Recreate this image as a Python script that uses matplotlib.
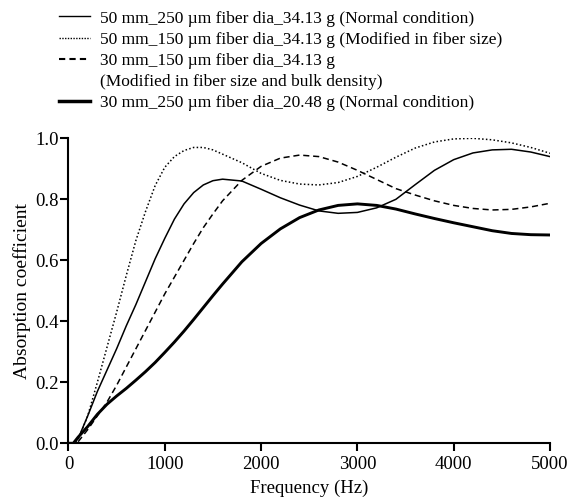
import matplotlib
matplotlib.use("Agg")
import matplotlib.pyplot as plt
from matplotlib.lines import Line2D

plt.rcParams['font.family'] = ['Liberation Serif', 'DejaVu Serif']

freq = [0, 50, 100, 200, 300, 400, 500, 600, 700, 800, 900, 1000, 1100, 1200, 1300,
        1400, 1500, 1600, 1800, 2000, 2200, 2400, 2600, 2800, 3000, 3200, 3400, 3600,
        3800, 4000, 4200, 4400, 4600, 4800, 5000]

# 50 mm_250 um (normal)
s50_250 = [0, 0, 0.015, 0.09, 0.17, 0.24, 0.31, 0.385, 0.455, 0.53, 0.605, 0.672,
           0.735, 0.785, 0.822, 0.847, 0.861, 0.866,
           0.86, 0.833, 0.805, 0.781, 0.762, 0.754, 0.757, 0.772, 0.8, 0.848, 0.895,
           0.93, 0.952, 0.962, 0.964, 0.955, 0.94]
# 50 mm_150 um (modified fiber size)
s50_150 = [0, 0, 0.012, 0.09, 0.2, 0.315, 0.43, 0.55, 0.665, 0.76, 0.845, 0.905,
           0.94, 0.96, 0.97, 0.97, 0.962, 0.948,
           0.92, 0.885, 0.862, 0.85, 0.847, 0.855, 0.875, 0.905, 0.938, 0.968, 0.988,
           0.998, 1.0, 0.995, 0.985, 0.97, 0.951]
# 30 mm_150 um (modified fiber size and bulk density)
s30_150 = [0, 0, 0.005, 0.045, 0.09, 0.135, 0.19, 0.25, 0.31, 0.37, 0.43, 0.49,
           0.545, 0.6, 0.655, 0.707, 0.752, 0.795,
           0.862, 0.908, 0.935, 0.945, 0.94, 0.922, 0.895, 0.865, 0.835, 0.814, 0.795,
           0.78, 0.77, 0.765, 0.767, 0.775, 0.787]
# 30 mm_250 um (normal)
s30_250 = [0, 0, 0.02, 0.055, 0.095, 0.128, 0.155, 0.18, 0.207, 0.235, 0.265, 0.298,
           0.332, 0.368, 0.406, 0.445, 0.484, 0.522,
           0.595, 0.655, 0.703, 0.74, 0.765, 0.78, 0.785, 0.78, 0.768, 0.752, 0.737,
           0.723, 0.71, 0.697, 0.688, 0.684, 0.683]

labels = ['50 mm_250 \u00b5m fiber dia_34.13 g (Normal condition)',
          '50 mm_150 \u00b5m fiber dia_34.13 g (Modified in fiber size)',
          '30 mm_150 \u00b5m fiber dia_34.13 g',
          '(Modified in fiber size and bulk density)',
          '30 mm_250 \u00b5m fiber dia_20.48 g (Normal condition)']

fig = plt.figure(figsize=(5.73, 5.0), dpi=100)
ax = fig.add_axes([0.1195, 0.1134, 0.8404, 0.61])

ax.plot(freq, s50_250, color='black', lw=1.1, ls='-')
ax.plot(freq, s50_150, color='black', lw=1.1, ls=(0, (1, 1.5)))
ax.plot(freq, s30_150, color='black', lw=1.1, ls=(0, (4, 2.5)))
ax.plot(freq, s30_250, color='black', lw=2.1, ls='-')

ax.set_xlim(0, 5000)
ax.set_ylim(0, 1.0)
ax.set_xticks([0, 1000, 2000, 3000, 4000, 5000])
ax.set_yticks([0, 0.2, 0.4, 0.6, 0.8, 1.0])
ax.set_yticklabels(['0.0', '0.2', '0.4', '0.6', '0.8', '1.0'])
ax.spines['right'].set_visible(False)
ax.spines['top'].set_visible(False)
for s in ['left', 'bottom']:
    ax.spines[s].set_linewidth(1.5)
ax.tick_params(width=1.5, length=6, labelsize=13.5, pad=1)
ax.tick_params(axis='x', pad=3)
ax.set_xlabel('Frequency (Hz)', fontsize=13.5, labelpad=5)
ax.set_ylabel('Absorption coefficient', fontsize=14, labelpad=3)

handles = [Line2D([], [], color='black', lw=1.0),
           Line2D([], [], color='black', lw=1.0, ls=(0, (1, 1))),
           Line2D([], [], color='black', lw=1.5, ls=(0, (3, 2))),
           Line2D([], [], ls='none'),
           Line2D([], [], color='black', lw=2.5)]
fig.legend(handles, labels, loc='upper left', bbox_to_anchor=(0.085, 1.0),
           frameon=False, fontsize=12.5, handlelength=1.8, handletextpad=0.55,
           labelspacing=0.28, borderaxespad=0.2)

fig.savefig('out.png', dpi=100)
